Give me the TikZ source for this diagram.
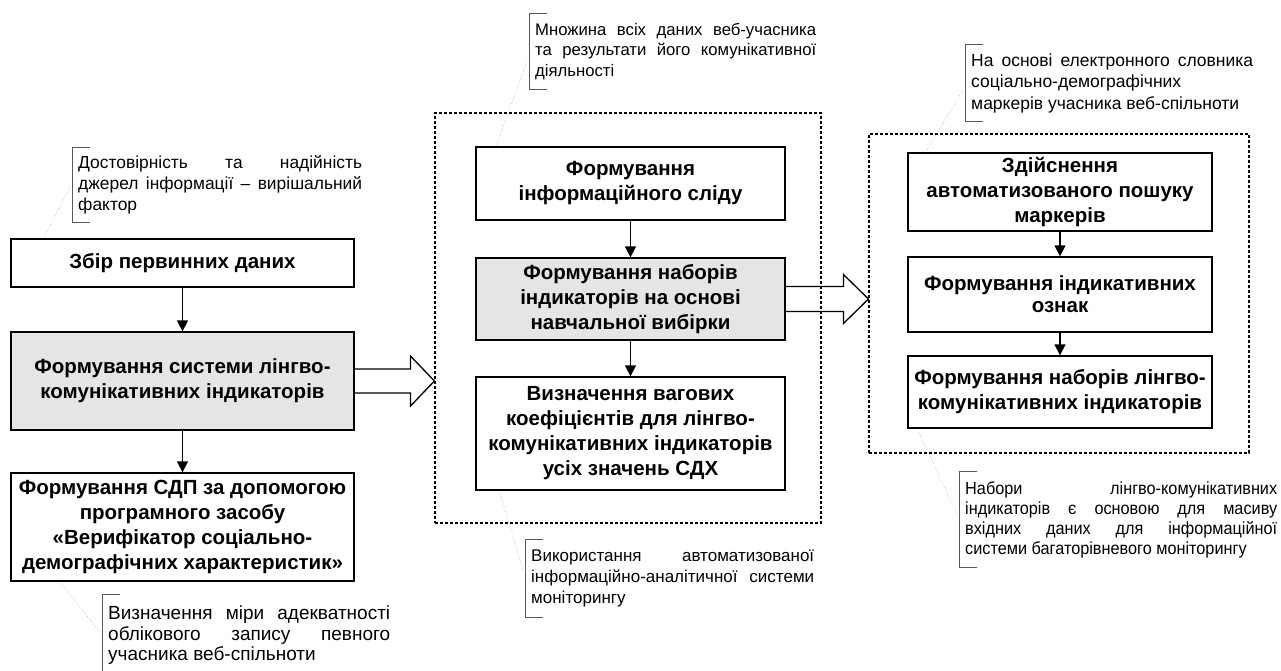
\documentclass[tikz,border=0pt]{standalone}
\usepackage{fontspec}
\setmainfont{Liberation Sans}
\newfontfamily\annnarrow[FakeStretch=0.93]{Liberation Sans}
\usetikzlibrary{calc,arrows.meta}
\begin{document}
\begin{tikzpicture}[x=1pt,y=-1pt,
  box/.style={draw,line width=1.3pt,align=center,inner sep=0pt,
    font=\fontsize{20.5}{25}\selectfont\bfseries},
  grbox/.style={box,fill=black!10},
  grp/.style={draw,line width=1.1pt,dash pattern=on 3pt off 2pt,inner sep=0pt},
  ann/.style={inner xsep=6pt,inner ysep=0pt,align=left,
    font=\fontsize{17}{20.7}\selectfont},
  brk/.style={draw=black!65,line width=1pt},
  leader/.style={draw=black!35,line width=0.6pt,dotted},
  arr/.style={line width=1.3pt,-{Triangle[width=11pt,length=11pt]}},
  blk/.style={draw,line width=1.3pt,line join=miter}
]
\useasboundingbox (0,0) rectangle (1281,670);

% ---------- left column ----------
\node[box,minimum width=343pt,minimum height=48pt] (b1) at (182.5,263) {Збір первинних даних};
\node[grbox,minimum width=343pt,minimum height=98pt] (b2) at (182.5,381)
  {Формування системи лінгво-\\комунікативних індикаторів};
\node[box,minimum width=343pt,minimum height=108pt] (b3) at (182.5,527)
  {Формування СДП за допомогою\\програмного засобу\\«Верифікатор соціально-\\демографічних характеристик»};
\draw[arr] (b1) -- (b2);
\draw[arr] (b2) -- (b3);

% ---------- middle group ----------
\node[grp,minimum width=386pt,minimum height=410pt] (G2) at (628,318) {};
\node[box,minimum width=309pt,minimum height=73pt] (m1) at (630.5,183.5)
  {Формування\\інформаційного сліду};
\node[grbox,minimum width=309pt,minimum height=82pt] (m2) at (630.5,299)
  {Формування наборів\\індикаторів на основі\\навчальної вибірки};
\node[box,minimum width=309pt,minimum height=113pt] (m3) at (630.5,433.5)
  {Визначення вагових\\коефіцієнтів для лінгво-\\комунікативних індикаторів\\усіх значень СДХ};
\draw[arr] (m1) -- (m2);
\draw[arr] (m2) -- (m3);

% ---------- right group ----------
\node[grp,minimum width=380pt,minimum height=319pt] (G3) at (1059,293.5) {};
\node[box,minimum width=304pt,minimum height=78pt] (r1) at (1060,192)
  {Здійснення\\автоматизованого пошуку\\маркерів};
\node[box,minimum width=304pt,minimum height=75pt,font=\fontsize{20.5}{22}\selectfont\bfseries] (r2) at (1060,294.5)
  {Формування індикативних\\ознак};
\node[box,minimum width=304pt,minimum height=72pt] (r3) at (1060,392)
  {Формування наборів лінгво-\\комунікативних індикаторів};
\draw[arr] (r1) -- (r2);
\draw[arr] (r2) -- (r3);

% ---------- block arrows ----------
\coordinate (t1) at (G2.west |- b2.east);
\draw[blk] ($(b2.east)+(0,-12)$) -- ($(t1)+(-24,-12)$) -- ($(t1)+(-24,-25)$) -- (t1)
  -- ($(t1)+(-24,25)$) -- ($(t1)+(-24,12)$) -- ($(b2.east)+(0,12)$);
\coordinate (t2) at (G3.west |- m2.east);
\draw[blk] ($(m2.east)+(0,-12.5)$) -- ($(t2)+(-25,-12.5)$) -- ($(t2)+(-25,-24.5)$) -- (t2)
  -- ($(t2)+(-25,24.5)$) -- ($(t2)+(-25,12.5)$) -- ($(m2.east)+(0,12.5)$);

% ---------- annotations ----------
\node[ann,anchor=west,minimum height=75pt,font=\fontsize{17.4}{21}\selectfont] (A1) at (72,185)
  {\makebox[284pt][s]{Достовірність та надійність}\\
   \makebox[284pt][s]{джерел інформації – вирішальний}\\
   фактор};
\draw[brk] ([xshift=18pt]A1.north west) -- (A1.north west) -- (A1.south west) -- ([xshift=18pt]A1.south west);
\draw[leader] ($(b1.north west)+(34,-2)$) -- ($(A1.west)+(-2,2)$);

\node[ann,anchor=north west,minimum height=82pt,font=\fontsize{19}{20.5}\selectfont] (A2) at (102,594)
  {\makebox[282pt][s]{Визначення міри адекватності}\\
   \makebox[282pt][s]{облікового запису певного}\\
   учасника веб-спільноти};
\draw[brk] ([xshift=18pt]A2.north west) -- (A2.north west) -- (A2.south west);
\draw[leader] ($(b3.south west)+(51,2)$) -- ($(A2.west)+(-2,-3)$);

\node[ann,anchor=west,minimum height=75pt,font=\fontsize{16.7}{20.5}\selectfont] (A3) at (529,51.5)
  {\makebox[281pt][s]{Множина всіх даних веб-учасника}\\
   \makebox[281pt][s]{та результати його комунікативної}\\
   діяльності};
\draw[brk] ([xshift=18pt]A3.north west) -- (A3.north west) -- (A3.south west) -- ([xshift=18pt]A3.south west);
\draw[leader] ($(m1.north west)+(21,-1)$) -- ($(A3.west)+(-2,10)$);

\node[ann,anchor=west,minimum height=77pt] (A4) at (525,578.5)
  {\makebox[283pt][s]{Використання автоматизованої}\\
   \makebox[283pt][s]{інформаційно-аналітичної системи}\\
   моніторингу};
\draw[brk] ([xshift=18pt]A4.north west) -- (A4.north west) -- (A4.south west) -- ([xshift=18pt]A4.south west);
\draw[leader] ($(m3.south west)+(25,3)$) -- ($(A4.west)+(-2,-8)$);

\node[ann,anchor=west,minimum height=76pt,font=\fontsize{17.5}{21.5}\selectfont] (A5) at (965,83)
  {\makebox[282pt][s]{На основі електронного словника}\\
   соціально-демографічних\\
   маркерів учасника веб-спільноти};
\draw[brk] ([xshift=18pt]A5.north west) -- (A5.north west) -- (A5.south west) -- ([xshift=18pt]A5.south west);
\draw[leader] ($(r1.north west)+(20,-3)$) -- ($(A5.west)+(-2,7)$);

\node[ann,anchor=west,minimum height=95pt,font=\annnarrow\fontsize{17.5}{20}\selectfont] (A6) at (959,519.5)
  {\makebox[312pt][s]{Набори лінгво-комунікативних}\\
   \makebox[312pt][s]{індикаторів є основою для масиву}\\
   \makebox[312pt][s]{вхідних даних для інформаційної}\\
   системи багаторівневого моніторингу};
\draw[brk] ([xshift=18pt]A6.north west) -- (A6.north west) -- (A6.south west) -- ([xshift=18pt]A6.south west);
\draw[leader] ($(r3.south west)+(12,4)$) -- ($(A6.west)+(-2,-4.5)$);
\end{tikzpicture}
\end{document}
